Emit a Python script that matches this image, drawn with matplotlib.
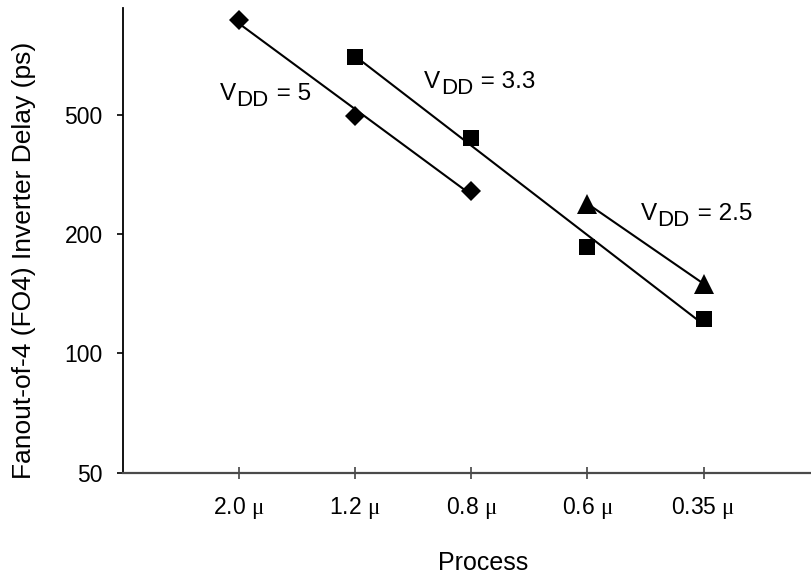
import numpy as np
import matplotlib
matplotlib.use('Agg')
import matplotlib.pyplot as plt

plt.rcParams['font.family'] = ['Liberation Sans', 'DejaVu Sans']
plt.rcParams['mathtext.fontset'] = 'custom'
plt.rcParams['mathtext.rm'] = 'Liberation Serif'

# process nodes (categories) and FO4 delays
processes = ['2.0', '1.2', '0.8', '0.6', '0.35']
x_pos = [1, 2, 3, 4, 5]

vdd5_x = [1, 2, 3]
vdd5_delay = [696, 397, 257]

vdd33_x = [2, 3, 4, 5]
vdd33_delay = [560, 350, 186, 122]

vdd25_x = [4, 5]
vdd25_delay = [239, 150]

# y ticks: equally spaced (octaves) in the original, top one labelled 500
y_ticks = [50, 100, 200, 400]
y_tick_labels = ['50', '100', '200', '500']

# curve labels: (x, baseline y, value text)
labels = [(0.836, 438, '= 5'), (2.595, 469, '= 3.3'), (4.46, 217.6, '= 2.5')]

fig = plt.figure(figsize=(8.12, 5.78), dpi=100)
ax = fig.add_axes([0.1514, 0.1825, 0.858, 0.8036])
ax.set_yscale('log', base=2)
ax.set_xlim(0, 6)
ax.set_ylim(50, 746)


def trend(xs, ys):
    # straight trendline on the log axis
    k, b = np.polyfit(xs, np.log2(ys), 1)
    xx = np.array([xs[0], xs[-1]], dtype=float)
    ax.plot(xx, 2 ** (k * xx + b), color='black', lw=1.5, zorder=2)


trend(vdd5_x, vdd5_delay)
trend(vdd33_x, vdd33_delay)
trend(vdd25_x, vdd25_delay)

ax.plot(vdd5_x, vdd5_delay, 'D', color='black', ms=10, mew=0, zorder=3)
ax.plot(vdd33_x, vdd33_delay, 's', color='black', ms=11, mew=0, zorder=3)
ax.plot(vdd25_x, vdd25_delay, '^', color='black', ms=14, mew=0, zorder=3)

# "V", big lowered "DD", then "= n" back on the baseline
for lx, ly, val in labels:
    t1 = ax.text(lx, ly, 'V', fontsize=17.5, va='baseline')
    t2 = ax.annotate('DD', xy=(1, 0), xycoords=t1, xytext=(0.3, -4.5),
                     textcoords='offset points', fontsize=16, va='bottom')
    ax.annotate(' ' + val, xy=(1, 0), xycoords=t2, xytext=(0.8, 4.2),
                textcoords='offset points', fontsize=17.5, va='bottom')

ax.set_xticks(x_pos)
ax.set_xticklabels([p + r' $\mathrm{\mu}$' for p in processes], fontsize=16.5)
ax.set_yticks(y_ticks)
ax.set_yticklabels(y_tick_labels, fontsize=16.5)
ax.yaxis.set_minor_locator(matplotlib.ticker.NullLocator())

ax.tick_params(axis='x', direction='inout', length=8, width=1.2, color='#444444', pad=12)
ax.tick_params(axis='y', direction='out', length=4.5, width=1.2, pad=10)

ax.spines['top'].set_visible(False)
ax.spines['right'].set_visible(False)
ax.spines['left'].set_linewidth(1.3)
ax.spines['bottom'].set_linewidth(1.6)
ax.spines['bottom'].set_color('#4a4a4a')

fig.text(24 / 812, 1 - 260 / 578, 'Fanout-of-4 (FO4) Inverter Delay (ps)',
         rotation=90, ha='center', va='center', fontsize=19)
fig.text(483 / 812, 1 - 570 / 578, 'Process', ha='center', va='baseline', fontsize=18)

fig.savefig('out.png', dpi=100)
